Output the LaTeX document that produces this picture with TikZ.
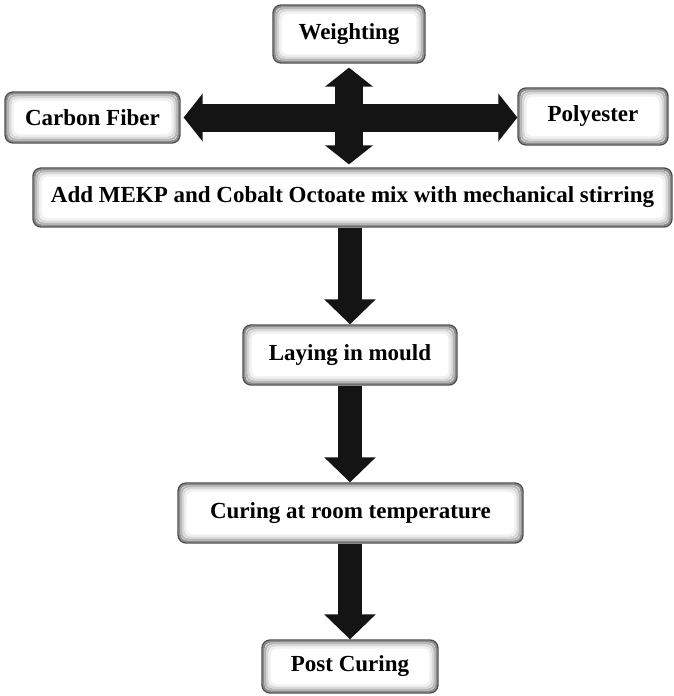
\documentclass[tikz,border=0pt]{standalone}
\usepackage{fontspec}
\setmainfont{Liberation Serif}
\usepackage{tikz}
\usetikzlibrary{arrows.meta, positioning}

\begin{document}
\begin{tikzpicture}[x=1pt, y=-1pt,
    stage/.style={draw=black!70, line width=1.3pt, rounded corners=8pt,
        fill=white, align=center,
        font=\fontsize{23}{27}\selectfont\bfseries,
        path picture={
            % soft inner edge of the box
            \foreach \k/\c in {1.5/45,3.5/28,5.5/15,7.5/6}
                \draw[black!\c, line width=2.2pt, rounded corners=7pt]
                    ([shift={(\k pt,-\k pt)}]path picture bounding box.north west)
                    rectangle ([shift={(-\k pt,\k pt)}]path picture bounding box.south east);
        }},
    bigflow/.style={draw=black!92, line width=24pt,
        -{Triangle[length=25pt, width=50pt]}},
    crossflow/.style={draw=black!92, line width=28pt,
        {Triangle[length=19pt, width=47pt]}-{Triangle[length=19pt, width=47pt]}}]
    \useasboundingbox (0,0) rectangle (674,696);

    % Boxes
    \node[stage, minimum width=152pt, minimum height=58pt] (weigh) at (349, 34) {Weighting};
    \node[stage, minimum width=175pt, minimum height=51pt] (carbon) at (92.5, 117.5) {Carbon Fiber};
    \node[stage, minimum width=150pt, minimum height=57pt] (poly) at (593, 116.5) {Polyester};
    \node[stage, minimum width=639pt, minimum height=59pt] (mekp) at (352.5, 197.5) {Add MEKP and Cobalt Octoate mix with mechanical stirring};
    \node[stage, minimum width=214pt, minimum height=60pt] (lay) at (350, 355) {Laying in mould};
    \node[stage, minimum width=345pt, minimum height=60pt] (cure) at (350.5, 513) {Curing at room temperature};
    \node[stage, minimum width=176pt, minimum height=53pt] (post) at (350, 666.5) {Post Curing};

    % Cross of double arrows
    \draw[crossflow, shorten <=3pt] (carbon.east) -- (carbon.east -| poly.west);
    \draw[crossflow, shorten <=4pt, shorten >=3pt] (weigh.south) -- (weigh.south |- mekp.north);

    % Downward flow
    \draw[bigflow] (lay.north |- mekp.south) -- (lay.north);
    \draw[bigflow] (lay.south) -- (cure.north -| lay.south);
    \draw[bigflow] (cure.south -| post.north) -- (post.north);
\end{tikzpicture}
\end{document}
